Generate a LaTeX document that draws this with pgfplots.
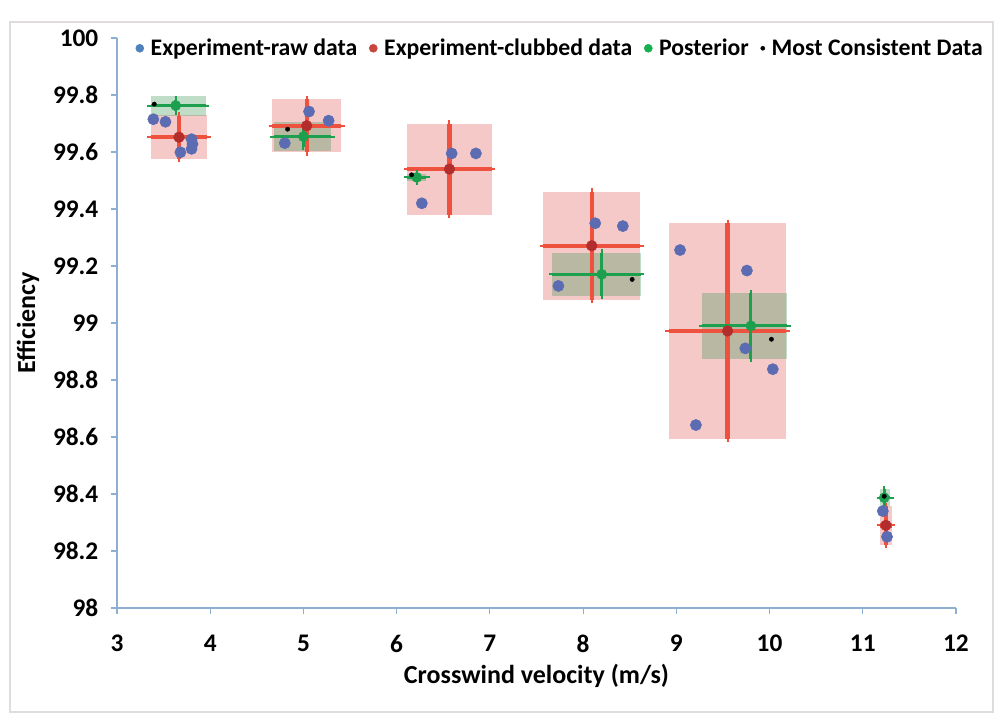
\documentclass[border=0pt]{standalone}
\usepackage{fontspec}
\setmainfont{Carlito}
\usepackage{pgfplots}
\usepackage{pgfplotstable}
\pgfplotsset{compat=1.18}

\definecolor{rawblue}{RGB}{92,108,178}
\definecolor{clubred}{RGB}{180,45,45}
\definecolor{barred}{RGB}{238,82,62}
\definecolor{postgreen}{RGB}{28,160,78}
\definecolor{boxred}{RGB}{228,100,100}
\definecolor{boxgreen}{RGB}{60,150,80}
\definecolor{axisblue}{RGB}{140,175,210}
\definecolor{legblue}{RGB}{79,129,189}
\definecolor{legred}{RGB}{200,70,60}
\definecolor{leggreen}{RGB}{20,176,80}
\definecolor{framegray}{RGB}{225,220,220}

% raw experimental points
\pgfplotstableread{
x      y
3.39   99.715
3.52   99.706
3.68   99.599
3.80   99.645
3.81   99.628
3.80   99.611
5.06   99.742
5.27   99.710
4.80   99.631
6.59   99.595
6.85   99.595
6.27   99.420
8.13   99.350
8.426  99.340
7.735  99.130
9.04   99.256
9.757  99.184
9.74   98.911
10.035 98.838
9.21   98.642
11.215 98.340
11.26  98.250
}\rawdata

% clubbed data: mean and spread
\pgfplotstableread{
x      y      ex     ey
3.665  99.652 0.305  0.075
5.035  99.692 0.370  0.093
6.566  99.540 0.452  0.160
8.093  99.271 0.520  0.190
9.550  98.972 0.630  0.378
11.248 98.290 0.062  0.068
}\clubdata

% posterior estimate
\pgfplotstableread{
x      y      exm    exp    ey
3.630  99.763 0.270  0.320  0.020
5.000  99.654 0.320  0.300  0.035
6.216  99.511 0.100  0.100  0.013
8.200  99.171 0.530  0.420  0.075
9.800  98.990 0.520  0.390  0.115
11.230 98.387 0.045  0.065  0.030
}\postdata

% most consistent data
\pgfplotstableread{
x      y
3.40   99.768
4.83   99.680
6.16   99.520
8.526  99.153
10.02  98.943
11.23  98.392
}\consdata

\begin{document}
\begin{tikzpicture}[x=1pt,y=1pt]
\useasboundingbox (-87.75,-80.25) rectangle (662.25,456);
\draw[framegray, line width=0.8pt] (-80.25,-78) rectangle (657,439.5);
\begin{axis}[
  at={(0,0)}, anchor=south west,
  scale only axis, width=629.25pt, height=427.5pt,
  xmin=3, xmax=12, ymin=98, ymax=100,
  xtick={3,4,...,12}, ytick={98,98.2,...,100.01},
  axis x line*=bottom, axis y line*=left,
  axis line style={axisblue, line width=0.8pt},
  tick style={axisblue, line width=0.8pt},
  tick align=outside, major tick length=4.5pt,
  /pgf/number format/assume math mode=true,
  /pgf/number format/fixed,
  ticklabel style={font=\fontsize{19}{21}\selectfont\bfseries},
  yticklabel style={/pgf/number format/precision=1, xshift=-6pt},
  xticklabel style={yshift=-12pt},
  xlabel={Crosswind velocity (m/s)},
  ylabel={Efficiency},
  every axis x label/.style={at={(axis description cs:0.5,-0.119)}, anchor=center, font=\fontsize{19.5}{22}\selectfont\bfseries},
  every axis y label/.style={at={(axis description cs:-0.106,0.5)}, rotate=90, anchor=center, font=\fontsize{19.5}{22}\selectfont\bfseries},
  clip=false,
  legend columns=4,
  legend style={at={(axis description cs:0.017,0.982)}, anchor=west, draw=none, fill=none,
    font=\fontsize{17.8}{20}\selectfont\bfseries,
    /tikz/every odd column/.append style={column sep=3pt},
    /tikz/every even column/.append style={column sep=6.8pt}},
  legend image code/.code={\fill[#1] (0.3cm,0) circle (3pt);},
]
% legend entries
\addlegendimage{legblue}
\addlegendentry{Experiment-raw data}
\addlegendimage{legred}
\addlegendentry{Experiment-clubbed data}
\addlegendimage{leggreen}
\addlegendentry{Posterior}
\addlegendimage{legend image code/.code={\fill[black] (0.3cm,0) circle (1.5pt);}}
\addlegendentry{Most Consistent Data}

% spread of the clubbed data
\addplot[draw=none, fill=boxred, fill opacity=0.35, forget plot] coordinates {(3.360,99.574) (3.970,99.574) (3.970,99.730) (3.360,99.730)};
\addplot[draw=none, fill=boxred, fill opacity=0.35, forget plot] coordinates {(4.665,99.599) (5.405,99.599) (5.405,99.785) (4.665,99.785)};
\addplot[draw=none, fill=boxred, fill opacity=0.35, forget plot] coordinates {(6.114,99.380) (7.018,99.380) (7.018,99.700) (6.114,99.700)};
\addplot[draw=none, fill=boxred, fill opacity=0.35, forget plot] coordinates {(7.573,99.081) (8.613,99.081) (8.613,99.461) (7.573,99.461)};
\addplot[draw=none, fill=boxred, fill opacity=0.35, forget plot] coordinates {(8.920,98.594) (10.180,98.594) (10.180,99.350) (8.920,99.350)};
\addplot[draw=none, fill=boxred, fill opacity=0.35, forget plot] coordinates {(11.186,98.222) (11.310,98.222) (11.310,98.358) (11.186,98.358)};

% spread of the posterior
\addplot[draw=none, fill=boxgreen, fill opacity=0.32, forget plot] coordinates {(3.360,99.728) (3.950,99.728) (3.950,99.798) (3.360,99.798)};
\addplot[draw=none, fill=boxgreen, fill opacity=0.32, forget plot] coordinates {(4.680,99.604) (5.300,99.604) (5.300,99.704) (4.680,99.704)};
\addplot[draw=none, fill=boxgreen, fill opacity=0.32, forget plot] coordinates {(6.116,99.498) (6.316,99.498) (6.316,99.524) (6.116,99.524)};
\addplot[draw=none, fill=boxgreen, fill opacity=0.32, forget plot] coordinates {(7.670,99.096) (8.620,99.096) (8.620,99.246) (7.670,99.246)};
\addplot[draw=none, fill=boxgreen, fill opacity=0.32, forget plot] coordinates {(9.280,98.875) (10.190,98.875) (10.190,99.105) (9.280,99.105)};
\addplot[draw=none, fill=boxgreen, fill opacity=0.32, forget plot] coordinates {(11.185,98.357) (11.295,98.357) (11.295,98.417) (11.185,98.417)};

% clubbed data with error bars
\addplot[only marks, mark=*, mark size=4pt, clubred,
  mark options={line width=0.4pt}, forget plot,
  error bars/.cd, x dir=both, x explicit, y dir=both, y explicit,
  error bar style={barred, line width=3.3pt},
  error mark options={barred, line width=1.5pt, mark size=2.6pt}]
  table[x=x, y=y, x error=ex, y error=ey] {\clubdata};

% posterior with error bars
\addplot[only marks, mark=*, mark size=3.8pt, postgreen,
  mark options={line width=0.4pt}, forget plot,
  error bars/.cd, x dir=both, x explicit, y dir=both, y explicit,
  error bar style={postgreen, line width=2.2pt},
  error mark options={postgreen, line width=1.5pt, mark size=2.6pt}]
  table[x=x, y=y, x error plus=exp, x error minus=exm, y error=ey] {\postdata};

% raw points
\addplot[only marks, mark=*, mark size=4.2pt, rawblue, forget plot] table[x=x, y=y] {\rawdata};

% most consistent data
\addplot[only marks, mark=*, mark size=1.6pt, black, forget plot] table[x=x, y=y] {\consdata};
\end{axis}
\end{tikzpicture}
\end{document}
